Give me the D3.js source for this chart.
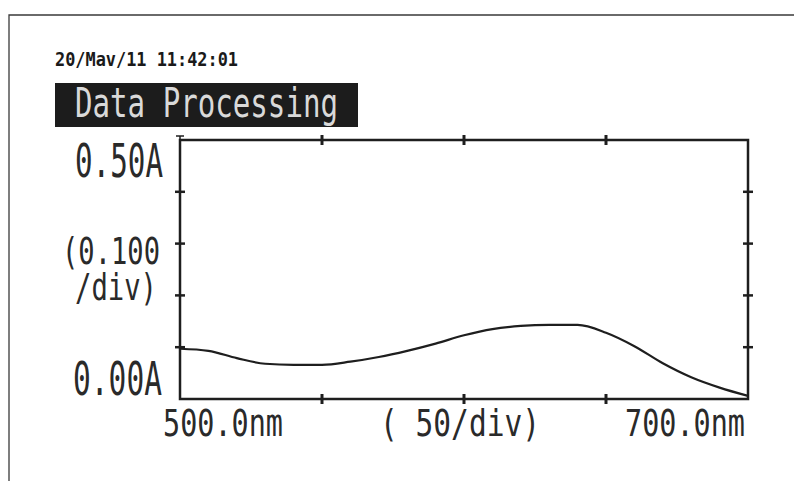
<!DOCTYPE html>
<html>
<head>
    <meta charset="utf-8">
    <title>Data Processing - Absorbance Spectrum</title>
    <script src="https://d3js.org/d3.v7.min.js"></script>
    <style>
        body { margin: 0; background: #fff; }
        svg { display: block; }
        .label {
            font-family: "DejaVu Sans Mono", "Liberation Mono", monospace;
            fill: #2a2a2a;
        }
        .curve {
            fill: none;
            stroke: #1e1e1e;
            stroke-width: 2.2px;
        }
    </style>
</head>
<body>
    <div id="chart"></div>

    <script>
        // Spectrum (nm, absorbance)
        const wavelengths = [500, 510, 520, 530, 540, 550, 560, 570, 580, 590, 600,
                             610, 620, 630, 640, 650, 660, 670, 680, 690, 700];
        const absorbance = [0.097, 0.093, 0.079, 0.068, 0.066, 0.066, 0.072, 0.081, 0.093, 0.107, 0.123,
                            0.135, 0.141, 0.143, 0.143, 0.128, 0.102, 0.069, 0.042, 0.022, 0.006];

        // Axis ranges and tick marks
        const xDomain = [500, 700];
        const yDomain = [0, 0.5];
        const xTicks = [550, 600, 650];
        const yTicks = [0.1, 0.2, 0.3, 0.4];

        // Texts
        const stamp = "20/Mav/11 11:42:01";
        const title = "Data Processing";
        const yTopLabel = "0.50A";
        const yBottomLabel = "0.00A";
        const yDivLabel = ["(0.100", "/div)"];
        const xLeftLabel = "500.0nm";
        const xRightLabel = "700.0nm";
        const xDivLabel = "(  50/div)";

        const W = 794, H = 481;
        const plot = {left: 180, right: 748, top: 140, bottom: 399};

        const svg = d3.select("#chart")
            .append("svg")
            .attr("width", W)
            .attr("height", H);

        // outer frame of the scanned sheet
        svg.append("path")
            .attr("d", `M9,${H} L9,15 L${W},15`)
            .attr("fill", "none")
            .attr("stroke", "#3a3a3a")
            .attr("stroke-width", 1.3);

        const x = d3.scaleLinear().domain(xDomain).range([plot.left, plot.right]);
        const y = d3.scaleLinear().domain(yDomain).range([plot.bottom, plot.top]);

        // header: time stamp and inverted title block
        svg.append("text")
            .attr("class", "label")
            .attr("x", 55)
            .attr("y", 66)
            .attr("font-size", 19)
            .attr("font-weight", "bold")
            .attr("textLength", 183)
            .attr("lengthAdjust", "spacingAndGlyphs")
            .style("fill", "#1a1a1a")
            .text(stamp);

        svg.append("rect")
            .attr("x", 55)
            .attr("y", 83)
            .attr("width", 303)
            .attr("height", 44)
            .attr("fill", "#1c1c1c");

        svg.append("text")
            .attr("class", "label")
            .attr("x", 75)
            .attr("y", 117)
            .attr("font-size", 40)
            .attr("textLength", 263)
            .attr("lengthAdjust", "spacingAndGlyphs")
            .style("fill", "#d9d9d9")
            .text(title);

        // plot box
        svg.append("rect")
            .attr("x", plot.left)
            .attr("y", plot.top)
            .attr("width", plot.right - plot.left)
            .attr("height", plot.bottom - plot.top)
            .attr("fill", "none")
            .attr("stroke", "#1e1e1e")
            .attr("stroke-width", 2.5);

        // small cap on top of the left axis
        svg.append("line")
            .attr("x1", plot.left - 4).attr("x2", plot.left + 4)
            .attr("y1", plot.top - 4).attr("y2", plot.top - 4)
            .attr("stroke", "#1e1e1e").attr("stroke-width", 1.5);
        svg.append("line")
            .attr("x1", plot.left).attr("x2", plot.left)
            .attr("y1", plot.top - 4).attr("y2", plot.top)
            .attr("stroke", "#1e1e1e").attr("stroke-width", 1.5);

        // tick marks crossing the top and bottom edges
        [plot.top, plot.bottom].forEach(edge => {
            svg.selectAll(null)
                .data(xTicks)
                .enter()
                .append("line")
                .attr("x1", d => x(d)).attr("x2", d => x(d))
                .attr("y1", edge - 5).attr("y2", edge + 5)
                .attr("stroke", "#1e1e1e")
                .attr("stroke-width", 3);
        });

        // tick marks crossing the left and right edges
        [plot.left, plot.right].forEach(edge => {
            svg.selectAll(null)
                .data(yTicks)
                .enter()
                .append("line")
                .attr("x1", edge - 5).attr("x2", edge + 5)
                .attr("y1", d => y(d)).attr("y2", d => y(d))
                .attr("stroke", "#1e1e1e")
                .attr("stroke-width", 2.5);
        });

        // the spectrum
        const line = d3.line()
            .x((d, i) => x(wavelengths[i]))
            .y(d => y(d))
            .curve(d3.curveMonotoneX);

        svg.append("path")
            .datum(absorbance)
            .attr("class", "curve")
            .attr("d", line);

        // labels in a tall, narrow printer-like face
        function label(txt, x0, y0, size, len) {
            svg.append("text")
                .attr("class", "label")
                .attr("x", x0)
                .attr("y", y0)
                .attr("font-size", size)
                .attr("textLength", len)
                .attr("lengthAdjust", "spacingAndGlyphs")
                .text(txt);
        }

        // y axis labels
        label(yTopLabel, 75, y(0.5) + 37, 46, 88);
        label(yDivLabel[0], 62, 264, 38, 98);
        label(yDivLabel[1], 75, 300, 38, 82);
        label(yBottomLabel, 73, y(0) - 4, 46, 89);

        // x axis labels
        label(xLeftLabel, x(500) - 17, 436, 38, 120);
        label(xDivLabel, 380, 436, 38, 160);
        label(xRightLabel, x(700) - 123, 436, 38, 120);
    </script>
</body>
</html>
